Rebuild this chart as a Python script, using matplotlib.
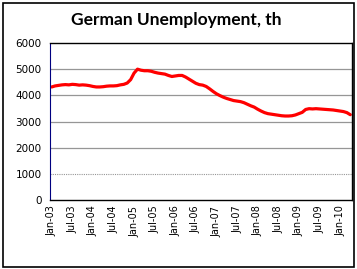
import numpy as np
import matplotlib
matplotlib.use("Agg")
import matplotlib.pyplot as plt
from matplotlib.patches import Rectangle

# monthly German unemployment (thousands), Jan 2003 .. Apr 2010
unemp = [4320, 4360, 4380, 4400, 4410, 4400, 4420, 4410, 4390, 4400, 4390, 4370,
         4340, 4320, 4320, 4330, 4350, 4360, 4360, 4370, 4400, 4420, 4470, 4600,
         4850, 5000, 4960, 4940, 4940, 4920, 4880, 4850, 4830, 4810, 4760, 4720,
         4740, 4760, 4760, 4700, 4620, 4540, 4460, 4410, 4390, 4340, 4250, 4150,
         4060, 3990, 3930, 3880, 3840, 3800, 3780, 3760, 3720, 3660, 3600, 3550,
         3470, 3400, 3340, 3300, 3280, 3260, 3240, 3220, 3210, 3210, 3220, 3250,
         3300, 3350, 3460, 3490, 3480, 3490, 3480, 3470, 3460, 3450, 3440, 3420,
         3400, 3380, 3340, 3260]
tick_labels = ["Jan-03", "Jul-03", "Jan-04", "Jul-04", "Jan-05", "Jul-05", "Jan-06",
               "Jul-06", "Jan-07", "Jul-07", "Jan-08", "Jul-08", "Jan-09", "Jul-09",
               "Jan-10"]
yticks = [0, 1000, 2000, 3000, 4000, 5000, 6000]

W, H = 357, 269
fig = plt.figure(figsize=(W / 100, H / 100), dpi=100)
fig.patches.append(Rectangle((3 / W, 2 / H), 351 / W, 264 / H, transform=fig.transFigure,
                             fill=False, edgecolor="black", linewidth=1.2))

ax = fig.add_axes([50 / W, 1 - 200 / H, 302 / W, 157 / H])
x = np.arange(len(unemp))
ax.plot(x, unemp, color="#ff0000", linewidth=2.3, solid_capstyle="round")

ax.set_xlim(-0.5, len(unemp) - 0.5)
ax.set_ylim(0, 6000)
ax.set_yticks(yticks)
ax.set_yticklabels([str(v) for v in yticks], fontsize=7.5)
ax.set_xticks(np.arange(0, len(unemp), 6))
ax.set_xticklabels(tick_labels, rotation=90, fontsize=7)
ax.tick_params(length=0, pad=6)
ax.tick_params(axis="x", pad=4)

for v in yticks[2:6]:
    ax.axhline(v, color="#969696", linewidth=0.9, zorder=0)
ax.axhline(1000, color="#969696", linewidth=0.8, linestyle=(0, (1, 1)), zorder=0)

for s in ["top", "right", "bottom"]:
    ax.spines[s].set_color("black")
    ax.spines[s].set_linewidth(1.0)
ax.spines["left"].set_color("#000080")
ax.spines["left"].set_linewidth(0.8)
ax.spines["left"].set_linestyle((0, (1, 1)))

fig.text(176 / W, 1 - 20 / H, "German Unemployment, th", ha="center", va="center",
         fontsize=12.5, fontweight="bold", family="Lato")

fig.savefig("out.png", dpi=100)
